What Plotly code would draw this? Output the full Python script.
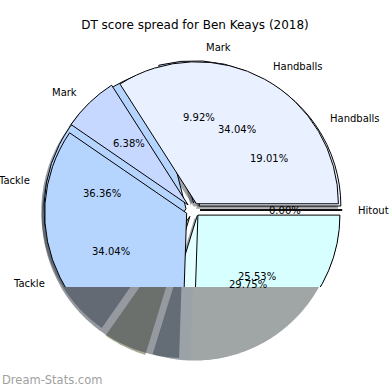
import math
import plotly.graph_objects as go

# ---------------- data ----------------
title_text = "DT score spread for Ben Keays (2018)"
watermark_text = "Dream-Stats.com"

# front pie
labels_a = ["Hitout", "Handballs", "Mark", "Tackle", "Kicks"]
values_a = [0.0, 34.04, 6.38, 34.04, 25.53]
colors_a = ["#ffffff", "#e9f0ff", "#c6d8ff", "#b5d5ff", "#d8ffff"]
shadow_a = ["rgba(76,76,76,0.5)", "rgba(70,72,76,0.5)", "rgba(59,65,76,0.5)",
            "rgba(45,53,65,0.5)", "rgba(165,169,163,0.5)"]

# back pie
labels_b = ["Hitout", "Handballs", "Mark", "Tackle", "Goals", "Kicks"]
values_b = [0.0, 19.01, 9.92, 36.36, 4.96, 29.75]
colors_b = ["#ffffff", "#e9f0ff", "#c6d8ff", "#b5d5ff", "#c5d5a7", "#e4ffff"]
shadow_b = ["rgba(76,76,76,0.5)", "rgba(70,72,76,0.5)", "rgba(59,65,76,0.5)",
            "rgba(51,63,79,0.5)", "rgba(83,87,47,0.5)", "rgba(55,71,83,0.5)"]

# ---------------- layout constants ----------------
W = H = 390
CX, CY = 193.0, 210.0      # pie centre (px)
R = 142.0                  # pie radius (px)
PULL = 0.05                # explode fraction
SHADOW = 0.02              # shadow offset fraction
YCUT = 287.0               # below this line only shadows are shown
FONT = "DejaVu Sans"

half = R * (1 + PULL) / W
dom_x = [CX / W - half, CX / W + half]
dom_y = [(1 - CY / H) - half, (1 - CY / H) + half]
sh = SHADOW * R / W
dom_x_s = [dom_x[0] - sh, dom_x[1] - sh]
dom_y_s = [dom_y[0] - sh, dom_y[1] - sh]


def pie(values, labels, colors, dx, dy, line_w, line_c):
    return go.Pie(
        values=values, labels=labels, sort=False, direction="counterclockwise",
        rotation=90, pull=[PULL] * len(values), textinfo="none",
        marker=dict(colors=colors, line=dict(color=line_c, width=line_w)),
        domain=dict(x=dx, y=dy), showlegend=False, hoverinfo="label+percent",
    )


fig = go.Figure()
fig.add_trace(pie(values_b, labels_b, shadow_b, dom_x_s, dom_y_s, 0, "rgba(0,0,0,0)"))
fig.add_trace(pie(values_a, labels_a, shadow_a, dom_x_s, dom_y_s, 0, "rgba(0,0,0,0)"))
fig.add_trace(pie(values_b, labels_b, colors_b, dom_x, dom_y, 1, "black"))
fig.add_trace(pie(values_a, labels_a, colors_a, dom_x, dom_y, 1, "black"))


def angles(values):
    tot = sum(values)
    out, start = [], 0.0
    for v in values:
        a2 = start + 360.0 * v / tot
        out.append((start, a2))
        start = a2
    return out


def clip_below(pts, ycut):
    res = []
    n = len(pts)
    for i in range(n):
        p, q = pts[i], pts[(i + 1) % n]
        pin, qin = p[1] >= ycut, q[1] >= ycut
        if pin:
            res.append(p)
        if pin != qin:
            t = (ycut - p[1]) / (q[1] - p[1])
            res.append((p[0] + t * (q[0] - p[0]), ycut))
    return res


shapes = [dict(type="rect", xref="paper", yref="paper", x0=0, x1=1, y0=0,
               y1=1 - YCUT / H, fillcolor="white", line=dict(width=0), layer="above")]

for values, scol in ((values_b, shadow_b), (values_a, shadow_a)):
    for (a1, a2), col in zip(angles(values), scol):
        if a2 - a1 <= 0:
            continue
        mid = math.radians((a1 + a2) / 2)
        sx = CX + PULL * R * math.cos(mid) - SHADOW * R
        sy = CY - PULL * R * math.sin(mid) + SHADOW * R
        n = int(abs(a2 - a1)) + 2
        pts = [(sx, sy)]
        for k in range(n + 1):
            a = math.radians(a1 + (a2 - a1) * k / n)
            pts.append((sx + R * math.cos(a), sy - R * math.sin(a)))
        pts = clip_below(pts, YCUT)
        if len(pts) < 3:
            continue
        path = "M " + " L ".join(f"{x / W:.5f},{1 - y / H:.5f}" for x, y in pts) + " Z"
        shapes.append(dict(type="path", xref="paper", yref="paper", path=path,
                           fillcolor=col, line=dict(width=0), layer="above"))

annotations = []
seen = set()
for values, labels in ((values_b, labels_b), (values_a, labels_a)):
    tot = sum(values)
    for (a1, a2), v, lab in zip(angles(values), values, labels):
        mid = math.radians((a1 + a2) / 2)
        c, s = math.cos(mid), math.sin(mid)
        pct = f"{100 * v / tot:.2f}%"
        px = CX + (0.6 + PULL) * R * c
        py = CY - (0.6 + PULL) * R * s
        key = (pct, round(px), round(py))
        if py < YCUT + 2 and key not in seen:
            seen.add(key)
            annotations.append(dict(x=px / W, y=1 - py / H, xref="paper", yref="paper",
                                    text=pct, showarrow=False,
                                    xanchor="center", yanchor="middle",
                                    font=dict(family=FONT, size=10, color="black")))
        lx = CX + (1.1 + PULL) * R * c
        ly = CY - (1.1 + PULL) * R * s
        key = (lab, round(lx), round(ly))
        if ly < YCUT + 2 and key not in seen:
            seen.add(key)
            annotations.append(dict(x=lx / W, y=1 - ly / H, xref="paper", yref="paper",
                                    text=lab, showarrow=False,
                                    xanchor="left" if c > 0 else "right", yanchor="middle",
                                    font=dict(family=FONT, size=10, color="black")))

annotations.append(dict(x=0, y=1 - 380 / H, xref="paper", yref="paper", text=watermark_text,
                        showarrow=False, xanchor="left", yanchor="middle",
                        font=dict(family=FONT, size=11.5, color="#a0a0a0")))

fig.update_layout(
    width=W, height=H, margin=dict(l=0, r=0, t=0, b=0),
    paper_bgcolor="white", plot_bgcolor="white",
    title=dict(text=title_text, x=0.5, xanchor="center", y=1 - 25 / H, yanchor="middle",
               yref="container", font=dict(family=FONT, size=12, color="black")),
    shapes=shapes, annotations=annotations, showlegend=False,
)

fig.write_html("out.html", config={"displayModeBar": False},
               post_script="document.body.style.margin='0px';")
